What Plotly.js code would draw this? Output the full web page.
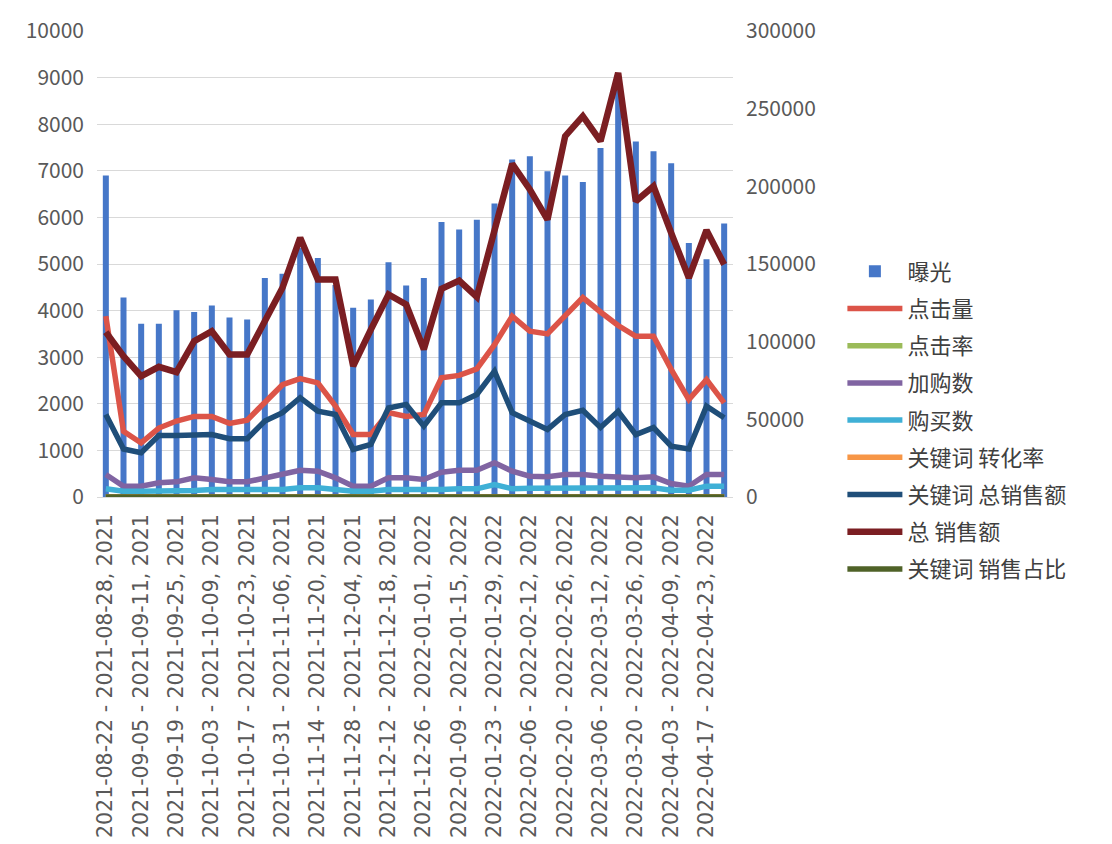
<!DOCTYPE html>
<html>
<head>
<meta charset="utf-8">
<script src="https://cdn.plot.ly/plotly-3.0.1.min.js"></script>
<style>
  html, body { margin: 0; padding: 0; background: #ffffff; }
  #chart { width: 1112px; height: 844px; }
</style>
</head>
<body>
<div id="chart"></div>
<script>
// ---- data ----
const weeks = [
  "2021-08-22 - 2021-08-28, 2021", "2021-08-29 - 2021-09-04, 2021",
  "2021-09-05 - 2021-09-11, 2021", "2021-09-12 - 2021-09-18, 2021",
  "2021-09-19 - 2021-09-25, 2021", "2021-09-26 - 2021-10-02, 2021",
  "2021-10-03 - 2021-10-09, 2021", "2021-10-10 - 2021-10-16, 2021",
  "2021-10-17 - 2021-10-23, 2021", "2021-10-24 - 2021-10-30, 2021",
  "2021-10-31 - 2021-11-06, 2021", "2021-11-07 - 2021-11-13, 2021",
  "2021-11-14 - 2021-11-20, 2021", "2021-11-21 - 2021-11-27, 2021",
  "2021-11-28 - 2021-12-04, 2021", "2021-12-05 - 2021-12-11, 2021",
  "2021-12-12 - 2021-12-18, 2021", "2021-12-19 - 2021-12-25, 2021",
  "2021-12-26 - 2022-01-01, 2022", "2022-01-02 - 2022-01-08, 2022",
  "2022-01-09 - 2022-01-15, 2022", "2022-01-16 - 2022-01-22, 2022",
  "2022-01-23 - 2022-01-29, 2022", "2022-01-30 - 2022-02-05, 2022",
  "2022-02-06 - 2022-02-12, 2022", "2022-02-13 - 2022-02-19, 2022",
  "2022-02-20 - 2022-02-26, 2022", "2022-02-27 - 2022-03-05, 2022",
  "2022-03-06 - 2022-03-12, 2022", "2022-03-13 - 2022-03-19, 2022",
  "2022-03-20 - 2022-03-26, 2022", "2022-03-27 - 2022-04-02, 2022",
  "2022-04-03 - 2022-04-09, 2022", "2022-04-10 - 2022-04-16, 2022",
  "2022-04-17 - 2022-04-23, 2022", "2022-04-24 - 2022-04-30, 2022"
];

const exposure = [6900, 4280, 3720, 3720, 4010, 3970, 4110, 3850, 3810, 4700,
  4790, 5350, 5130, 4550, 4060, 4240, 5040, 4540, 4700, 5900,
  5740, 5950, 6300, 7240, 7310, 6990, 6900, 6760, 7490, 8750,
  7630, 7420, 7160, 5450, 5100, 5870];

const clicks = [3880, 1410, 1160, 1480, 1630, 1730, 1730, 1580, 1650, 2020,
  2410, 2540, 2450, 1950, 1340, 1340, 1810, 1730, 1770, 2560,
  2610, 2750, 3270, 3880, 3560, 3500, 3880, 4280, 3970, 3680,
  3450, 3450, 2740, 2090, 2520, 2020];

const clickRate = [0.56, 0.33, 0.31, 0.40, 0.41, 0.44, 0.42, 0.41, 0.43, 0.43,
  0.50, 0.47, 0.48, 0.43, 0.33, 0.32, 0.36, 0.38, 0.38, 0.43,
  0.45, 0.46, 0.52, 0.54, 0.49, 0.50, 0.56, 0.63, 0.53, 0.42,
  0.45, 0.46, 0.38, 0.38, 0.49, 0.34];

const addCart = [483, 232, 232, 305, 326, 412, 376, 326, 326, 412,
  483, 575, 554, 412, 232, 232, 412, 412, 376, 533,
  575, 575, 734, 554, 447, 433, 483, 483, 447, 433,
  412, 433, 290, 232, 483, 483];

const purchases = [176, 125, 125, 125, 130, 140, 161, 161, 161, 161,
  161, 197, 197, 161, 125, 125, 161, 161, 147, 161,
  176, 176, 268, 176, 190, 190, 190, 190, 190, 197,
  197, 197, 147, 147, 232, 232];

const kwConvRate = [0.08, 0.06, 0.05, 0.06, 0.06, 0.07, 0.07, 0.06, 0.06, 0.07,
  0.07, 0.08, 0.08, 0.07, 0.05, 0.05, 0.07, 0.07, 0.06, 0.07,
  0.07, 0.07, 0.08, 0.07, 0.06, 0.06, 0.06, 0.06, 0.06, 0.07,
  0.07, 0.07, 0.06, 0.06, 0.08, 0.08];

const kwSales = [53100, 30900, 28500, 39600, 39600, 39600, 40200, 37500, 37500, 48900,
  54300, 63900, 55200, 53100, 30600, 33900, 57300, 59600, 45600, 60600,
  60600, 66000, 81000, 54300, 48900, 43500, 53100, 55800, 44700, 55200,
  40200, 44700, 32700, 30900, 58500, 51000];

const totalSales = [106100, 90600, 77800, 83800, 80400, 100300, 106700, 91700, 91700, 114300,
  134700, 166900, 140000, 140000, 84200, 107800, 130400, 123900, 95000, 134000,
  139300, 128800, 171000, 214500, 198000, 178600, 232300, 245200, 229100, 273000,
  190400, 200100, 170100, 141100, 171800, 149700];

const kwShare = [0.50, 0.34, 0.37, 0.47, 0.49, 0.39, 0.38, 0.41, 0.41, 0.43,
  0.40, 0.38, 0.39, 0.38, 0.36, 0.31, 0.44, 0.48, 0.48, 0.45,
  0.44, 0.51, 0.47, 0.25, 0.25, 0.24, 0.23, 0.23, 0.20, 0.20,
  0.21, 0.22, 0.19, 0.22, 0.34, 0.34];

const leftTicks = [0, 1000, 2000, 3000, 4000, 5000, 6000, 7000, 8000, 9000, 10000];
const rightTicks = [0, 50000, 100000, 150000, 200000, 250000, 300000];

// ---- chart ----
const shownWeeks = weeks.filter((w, i) => i % 2 === 0);

function line(name, y, color, axis, width) {
  return {
    type: 'scatter', mode: 'lines', name: name, x: weeks, y: y,
    yaxis: axis, legendgroup: name,
    line: { color: color, width: width || 5.5, shape: 'linear' },
    hoverinfo: 'x+y+name'
  };
}

const traces = [
  { type: 'bar', name: '曝光', x: weeks, y: exposure, yaxis: 'y', legendgroup: '曝光',
    marker: { color: '#4677c8' } },
  line('点击量', clicks, '#dc5448', 'y'),
  line('点击率', clickRate, '#9bbb59', 'y'),
  line('加购数', addCart, '#8064a2', 'y'),
  line('购买数', purchases, '#3fb0d6', 'y'),
  line('关键词 转化率', kwConvRate, '#f79646', 'y'),
  line('关键词 总销售额', kwSales, '#1f4e79', 'y2'),
  line('总 销售额', totalSales, '#7b1e22', 'y2', 6.5),
  line('关键词 销售占比', kwShare, '#4f6228', 'y')
];

const tickFont = { family: 'Noto Sans CJK SC, Noto Sans, sans-serif', size: 21, color: '#595959' };

const layout = {
  width: 1112, height: 844,
  margin: { l: 97, r: 379, t: 31, b: 347 },
  paper_bgcolor: '#ffffff', plot_bgcolor: '#ffffff',
  showlegend: true,
  bargap: 0.66,
  xaxis: {
    type: 'category', tickmode: 'array', tickvals: shownWeeks, ticktext: shownWeeks,
    tickangle: -90, ticks: '', showgrid: false, showline: false, zeroline: false,
    ticklabelstandoff: 12,
    tickfont: { family: 'DejaVu Sans, sans-serif', size: 20.5, color: '#595959' },
    range: [-0.5, 35.5], fixedrange: true
  },
  yaxis: {
    range: [0, 10000], tickmode: 'array', tickvals: leftTicks,
    ticktext: leftTicks.map(String),
    showgrid: true, gridcolor: '#d9d9d9', gridwidth: 1,
    zeroline: true, zerolinecolor: '#d9d9d9', zerolinewidth: 1,
    showline: false, ticks: '', ticklabelstandoff: 12, tickfont: tickFont
  },
  yaxis2: {
    overlaying: 'y', side: 'right', range: [0, 300000],
    tickmode: 'array', tickvals: rightTicks, ticktext: rightTicks.map(String),
    showgrid: false, zeroline: false, showline: false, ticks: '',
    ticklabelstandoff: 12, tickfont: tickFont
  },
  legend: {
    x: 1.172, xanchor: 'left', y: 0.529, yanchor: 'top',
    traceorder: 'grouped', tracegroupgap: 5.6,
    font: { family: 'Noto Sans CJK SC, sans-serif', size: 22, color: '#404040' },
    bgcolor: 'rgba(0,0,0,0)', borderwidth: 0, itemwidth: 55
  }
};

Plotly.newPlot('chart', traces, layout, { displayModeBar: false, staticPlot: true });
</script>
</body>
</html>
